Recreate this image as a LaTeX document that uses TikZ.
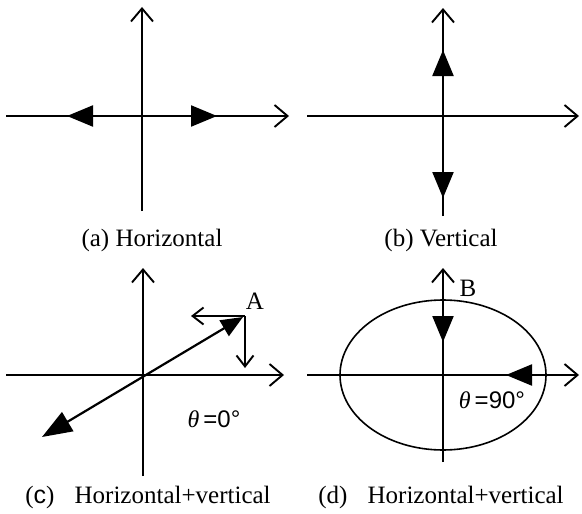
\documentclass[tikz,border=0pt]{standalone}
\usepackage{fontspec}
\setmainfont{Liberation Serif}
\newfontfamily\sansf{Liberation Sans}
\usetikzlibrary{arrows.meta}
\begin{document}
\begin{tikzpicture}[x=1pt,y=-1pt,
  axis/.style={line width=2.2pt,-{Straight Barb[length=13pt,width=22pt,line width=1.9pt]}},
  vec/.style={line width=2.2pt,-{Triangle[length=26pt,width=21pt]}},
  small/.style={line width=2.2pt,-{Straight Barb[length=11pt,width=17pt,line width=1.9pt]}},
  captxt/.style={font=\fontsize{25}{29}\selectfont},
  ang/.style={font=\fontsize{24}{28}\selectfont},
  lab/.style={font=\fontsize{25}{29}\selectfont}]
\useasboundingbox (0,0) rectangle (582,514);
% ---- (a)
\coordinate (aO) at (142,116);
\coordinate (aL) at (6,116); \coordinate (aR) at (289,116);
\coordinate (aT) at (142,7); \coordinate (aB) at (142,211);
\coordinate (aV1) at (217,116); \coordinate (aV2) at (67,116);
\draw[axis] (aL) -- (aR);
\draw[axis] (aB) -- (aT);
\draw[vec] (aO) -- (aV1);
\draw[vec] (aO) -- (aV2);
\node[captxt] (acap) at (152,240) {(a) Horizontal};
% ---- (b)
\coordinate (bO) at (443,116);
\coordinate (bL) at (307,116); \coordinate (bR) at (579,116);
\coordinate (bT) at (443,8); \coordinate (bB) at (443,216);
\coordinate (bV1) at (443,50); \coordinate (bV2) at (443,198);
\draw[axis] (bL) -- (bR);
\draw[line width=2.2pt] (bB) -- (bO);
\draw[axis] (bO) -- (bT);
\draw[vec] (bO) -- (bV1);
\draw[vec] (bO) -- (bV2);
\node[captxt] (bcap) at (441,240) {(b) Vertical};
% ---- (c)
\coordinate (cO) at (143,375);
\coordinate (cL) at (6,375); \coordinate (cR) at (284,375);
\coordinate (cT) at (143,268); \coordinate (cB) at (143,476);
\coordinate (cP1) at (42,437); \coordinate (cP2) at (243,317);
\coordinate (cA) at (245,316);
\coordinate (cAd) at (245,368); \coordinate (cAl) at (191,316);
\draw[axis] (cL) -- (cR);
\draw[axis] (cB) -- (cT);
\draw[line width=2.2pt,{Triangle[length=30pt,width=22pt]}-{Triangle[length=22pt,width=18pt]}] (cP1) -- (cP2);
\draw[small] (cA) -- (cAd);
\draw[small] (cA) -- (cAl);
\node[lab] (clA) at (255,301) {A};
\node[ang] (cth) at (214,419) {{\itshape θ}\,{\sansf=0°}};
\node[captxt] (ccap) at (148,497) {({\sansf c})\;\; Horizontal+vertical};
% ---- (d)
\coordinate (dO) at (443,375);
\coordinate (dL) at (307,375); \coordinate (dR) at (579,375);
\coordinate (dT) at (443,268); \coordinate (dB) at (443,462);
\coordinate (dS1) at (443,300); \coordinate (dE1) at (443,342);
\coordinate (dS2) at (545,375); \coordinate (dE2) at (506,375);
\draw[line width=1.6pt] (dO) ellipse [x radius=103, y radius=75];
\draw[axis] (dL) -- (dR);
\draw[axis] (dB) -- (dT);
\draw[vec] (dS1) -- (dE1);
\draw[vec] (dS2) -- (dE2);
\node[lab] (dlB) at (468,288) {B};
\node[ang] (dth) at (492,400) {{\itshape θ}\,{\sansf=90°}};
\node[captxt] (dcap) at (441,497) {(d)\;\; Horizontal+vertical};
\end{tikzpicture}
\end{document}
